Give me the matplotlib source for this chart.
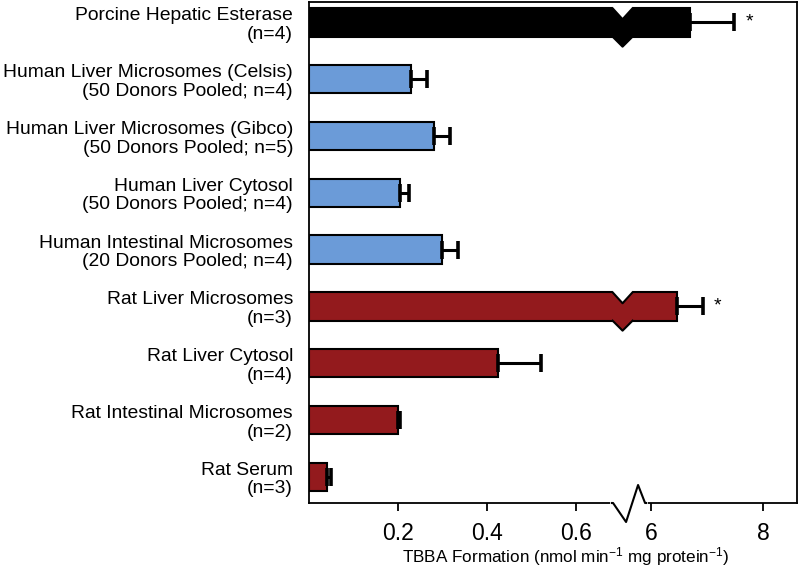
import numpy as np
import matplotlib
matplotlib.use("Agg")
import matplotlib.pyplot as plt
from matplotlib.transforms import Affine2D, ScaledTranslation, blended_transform_factory
from matplotlib.patches import Polygon
from matplotlib.lines import Line2D

plt.rcParams['font.family'] = ['Liberation Sans', 'DejaVu Sans']
plt.rcParams['mathtext.default'] = 'regular'

categories = [
    "Porcine Hepatic Esterase\n(n=4)",
    "Human Liver Microsomes (Celsis)\n(50 Donors Pooled; n=4)",
    "Human Liver Microsomes (Gibco)\n(50 Donors Pooled; n=5)",
    "Human Liver Cytosol\n(50 Donors Pooled; n=4)",
    "Human Intestinal Microsomes\n(20 Donors Pooled; n=4)",
    "Rat Liver Microsomes\n(n=3)",
    "Rat Liver Cytosol\n(n=4)",
    "Rat Intestinal Microsomes\n(n=2)",
    "Rat Serum\n(n=3)",
]
values = [6.69, 0.229, 0.281, 0.205, 0.299, 6.46, 0.425, 0.200, 0.040]
errors = [0.79, 0.036, 0.036, 0.020, 0.036, 0.46, 0.096, 0.005, 0.009]
groups = ["porcine", "human", "human", "human", "human", "rat", "rat", "rat", "rat"]
significant = [True, False, False, False, False, True, False, False, False]
tick_values = [0.2, 0.4, 0.6, 6, 8]
tick_labels = ["0.2", "0.4", "0.6", "6", "8"]
xlabel = "TBBA Formation (nmol min$^{-1}$ mg protein$^{-1}$)"

colors = {"porcine": "#000000", "human": "#6b9bd8", "rat": "#931a1d"}

BREAK_LO, BREAK_HI = 0.7, 5.45
K = 56.0 / 445.0


def forward(v):
    v = np.asarray(v, dtype=float)
    return np.where(v <= BREAK_LO, v,
                    np.where(v >= BREAK_HI, BREAK_LO + (v - BREAK_HI) * K, BREAK_LO))


def inverse(u):
    u = np.asarray(u, dtype=float)
    return np.where(u <= BREAK_LO, u, BREAK_HI + (u - BREAK_LO) / K)


DPI = 100
fig = plt.figure(figsize=(8.0, 5.74), dpi=DPI)
ax = fig.add_axes([309 / 800, 1 - 503 / 574, (797 - 309) / 800, (503 - 2) / 574])
ax.set_xscale('function', functions=(forward, inverse))

y = np.arange(len(categories))
bar_h = 0.5
bar_colors = [colors[g] for g in groups]
ax.barh(y, values, height=bar_h, color=bar_colors, edgecolor='black',
        linewidth=1.5, zorder=2)
ax.errorbar(values, y, xerr=[np.zeros(len(values)), errors], fmt='none',
            ecolor='black', elinewidth=2.2, capsize=6.5, capthick=2.6, zorder=3)

ax.set_xlim(0, 8.6)
ax.set_ylim(len(categories) - 1 + 0.46, -0.36)
ax.set_xticks(tick_values)
ax.set_xticklabels(tick_labels)
ax.xaxis.set_minor_locator(matplotlib.ticker.NullLocator())
ax.set_yticks(y)
ax.set_yticklabels(categories, fontsize=13.9, linespacing=1.12)
ax.tick_params(axis='y', length=0, pad=11.5)
ax.tick_params(axis='x', direction='out', length=6, width=1.3, labelsize=16.5, pad=8)
ax.set_xlabel(xlabel, fontsize=12.3, labelpad=4)
ax.xaxis.set_label_coords(0.527, -0.085)
for s in ax.spines.values():
    s.set_linewidth(1.3)

# chevron break markers on broken bars
for i, v in enumerate(values):
    if v > BREAK_HI:
        col = bar_colors[i]
        top = ScaledTranslation(BREAK_LO, i - bar_h / 2, ax.transData)
        bot = ScaledTranslation(BREAK_LO, i + bar_h / 2, ax.transData)
        base = Affine2D().translate(2, 0)
        ax.add_patch(Polygon([(-11, 3), (-10, 0), (0, -11), (10, 0), (11, 3)],
                             closed=True, facecolor='white', edgecolor='none',
                             transform=base + top, zorder=4, clip_on=False))
        ax.add_line(Line2D([-10, 0, 10], [0, -11, 0], color='black', lw=1.5,
                           transform=base + top, zorder=5, clip_on=False))
        ax.add_patch(Polygon([(-10, 3), (-10, 0), (0, -10), (10, 0), (10, 3)],
                             closed=True, facecolor=col, edgecolor='none',
                             transform=base + bot, zorder=4, clip_on=False))
        ax.add_line(Line2D([-10, 0, 10], [0, -10, 0], color='black', lw=1.5,
                           transform=base + bot, zorder=5, clip_on=False))

# zigzag break on bottom axis
btrans = blended_transform_factory(ax.transData, ax.transAxes)
anchor = ScaledTranslation(BREAK_LO, 0, btrans)
ax.add_line(Line2D([-7.5, 24.5], [0, 0], color='white', lw=4,
                   transform=Affine2D() + anchor, zorder=6, clip_on=False))
ax.add_line(Line2D([-8.5, -7.5, 5.5, 17.5, 24.5, 25.5], [0, 0, -19, 18, 0, 0],
                   color='black', lw=1.5, transform=Affine2D() + anchor,
                   zorder=7, clip_on=False))

# significance stars
for i, (v, e, sig) in enumerate(zip(values, errors, significant)):
    if sig:
        ax.annotate("*", xy=(v + e, i), xytext=(11, 0), textcoords='offset pixels',
                    ha='left', va='center', fontsize=14)

fig.savefig("out.png", dpi=DPI)
